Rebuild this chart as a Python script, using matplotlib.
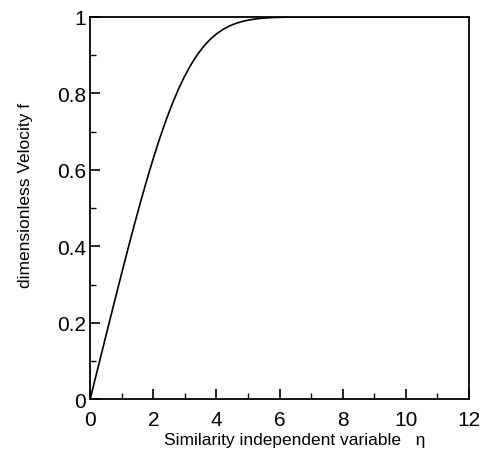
import matplotlib
matplotlib.use("Agg")
import matplotlib.pyplot as plt
from matplotlib.ticker import MultipleLocator

# Blasius solution, f'(eta), tabulated values
eta = [0.0, 0.2, 0.4, 0.6, 0.8, 1.0, 1.2, 1.4, 1.6, 1.8, 2.0, 2.2, 2.4,
       2.6, 2.8, 3.0, 3.2, 3.4, 3.6, 3.8, 4.0, 4.2, 4.4, 4.6, 4.8, 5.0,
       5.2, 5.4, 5.6, 5.8, 6.0, 6.4, 6.8, 7.2, 8.0, 9.0, 10.0, 11.0, 12.0]
fprime = [0.0, 0.06641, 0.13277, 0.19894, 0.26471, 0.32979, 0.39378,
          0.45627, 0.51676, 0.57477, 0.62977, 0.68132, 0.72899, 0.77246,
          0.81152, 0.84605, 0.87609, 0.90177, 0.92333, 0.94112, 0.95552,
          0.96696, 0.97587, 0.98269, 0.98779, 0.99155, 0.99425, 0.99616,
          0.99748, 0.99838, 0.99898, 0.99961, 0.99987, 0.99996, 1.0, 1.0,
          1.0, 1.0, 1.0]

plt.rcParams['font.family'] = ['Liberation Sans', 'DejaVu Sans']

fig = plt.figure(figsize=(4.82, 4.60), dpi=100)
ax = fig.add_axes([0.187, 0.130, 0.786, 0.831])

ax.plot(eta, fprime, color='black', lw=1.2)

ax.set_xlim(0, 12)
ax.set_ylim(0, 1)
ax.xaxis.set_major_locator(MultipleLocator(2))
ax.xaxis.set_minor_locator(MultipleLocator(1))
ax.yaxis.set_major_locator(MultipleLocator(0.2))
ax.yaxis.set_minor_locator(MultipleLocator(0.1))
ax.set_yticks([0, 0.2, 0.4, 0.6, 0.8, 1.0])
ax.set_yticklabels(['0', '0.2', '0.4', '0.6', '0.8', '1'])
ax.tick_params(which='major', direction='in', length=7, width=1.2,
               labelsize=15, pad=3)
ax.tick_params(axis='x', which='major', pad=8)
ax.tick_params(which='minor', direction='in', length=4, width=1.0)
for s in ax.spines.values():
    s.set_linewidth(1.3)

ax.set_xlabel('Similarity independent variable   η', fontsize=12.5)
ax.set_ylabel('dimensionless Velocity f', fontsize=12.5)
ax.xaxis.set_label_coords(0.54, -0.085)
ax.yaxis.set_label_coords(-0.15, 0.535)

fig.savefig('out.png', dpi=100)
